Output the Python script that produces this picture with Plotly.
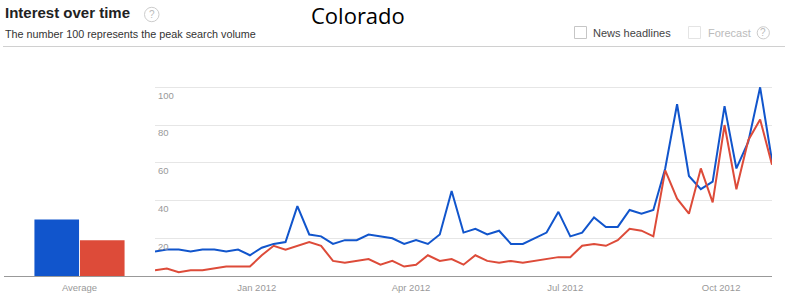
import pandas as pd
import plotly.graph_objects as go

W, H = 785, 299

# ---- data ----
start_date = "2011-11-02"
n_weeks = 53
dates = pd.date_range(start_date, periods=n_weeks, freq="7D")

blue_values = [13, 14, 14, 13, 14, 14, 13, 14, 11, 15, 17, 18, 37, 22, 21, 17, 19, 19,
               22, 21, 20, 17, 19, 17, 22, 45, 23, 25, 22, 24, 17, 17, 20, 23, 34, 21,
               23, 31, 26, 26, 35, 33, 35, 57, 91, 53, 46, 50, 90, 57, 71, 100, 61]
red_values = [3, 4, 2, 3, 3, 4, 5, 5, 5, 11, 16, 14, 16, 18, 16, 8, 7, 8,
              9, 6, 8, 5, 6, 11, 8, 9, 6, 11, 8, 7, 8, 7, 8, 9, 10, 10,
              16, 17, 16, 19, 25, 24, 21, 56, 41, 33, 57, 39, 80, 46, 72, 83, 59]
average_category = ["Average"]
blue_average = [30]
red_average = [19]
y_tick_values = [20, 40, 60, 80, 100]
x_tick_dates = ["2012-01-01", "2012-04-01", "2012-07-01", "2012-10-01"]
x_tick_labels = ["Jan 2012", "Apr 2012", "Jul 2012", "Oct 2012"]

BLUE = "#1155cc"
RED = "#dd4b39"
FONT = "Arial, Liberation Sans, sans-serif"


def px(x):
    return x / W


def py(y):
    return 1 - y / H


# plot geometry (pixels)
base_y = 276.0
top_y = 60.0
unit = 1.887
y_top_val = (base_y - top_y) / unit
y_domain = [py(base_y), py(top_y)]

fig = go.Figure()

fig.add_trace(go.Bar(x=average_category, y=blue_average, marker_color=BLUE,
                     xaxis="x", yaxis="y", showlegend=False, marker_line_width=0))
fig.add_trace(go.Bar(x=average_category, y=red_average, marker_color=RED,
                     xaxis="x", yaxis="y", showlegend=False, marker_line_width=0))

fig.add_trace(go.Scatter(x=dates, y=blue_values, mode="lines",
                         line=dict(color=BLUE, width=2), xaxis="x2", yaxis="y2",
                         showlegend=False))
fig.add_trace(go.Scatter(x=dates, y=red_values, mode="lines",
                         line=dict(color=RED, width=2), xaxis="x2", yaxis="y2",
                         showlegend=False))

tickfont = dict(family=FONT, size=9.5, color="#999999")

fig.update_layout(
    width=W, height=H, autosize=False,
    margin=dict(l=0, r=0, t=0, b=0),
    paper_bgcolor="white", plot_bgcolor="white",
    barmode="group", bargap=0.397, bargroupgap=0.02,
    xaxis=dict(domain=[px(4), px(155)], type="category", showline=True,
               linecolor="#999999", linewidth=1, showgrid=False, ticks="",
               tickfont=tickfont, anchor="y", fixedrange=True,
               ticklabelstandoff=3),
    yaxis=dict(domain=y_domain, range=[0, y_top_val], showgrid=False,
               showticklabels=False, zeroline=False, showline=False,
               anchor="x"),
    xaxis2=dict(domain=[px(155), px(772)], type="date",
                range=[dates[0], dates[-1]], showline=True, linecolor="#999999",
                linewidth=1, showgrid=False, ticks="", tickvals=x_tick_dates,
                ticktext=x_tick_labels, tickfont=tickfont, anchor="y2",
                ticklabelstandoff=3),
    yaxis2=dict(domain=y_domain, range=[0, y_top_val], anchor="x2",
                tickvals=y_tick_values, showgrid=True, gridcolor="#e6e6e6",
                gridwidth=1, zeroline=False, showline=False, ticks="",
                ticklabelposition="inside", tickfont=tickfont,
                ticklabelshift=8, ticklabelstandoff=0),
)

annotations = [
    dict(text="<b>Interest over time</b>", x=px(3), y=py(12.5), xanchor="left",
         yanchor="middle", font=dict(family=FONT, size=15, color="#222222")),
    dict(text="The number 100 represents the peak search volume", x=px(3), y=py(33.5),
         xanchor="left", yanchor="middle", font=dict(family=FONT, size=10.8, color="#333333")),
    dict(text="Colorado", x=px(311), y=1, xanchor="left", yanchor="top",
         borderpad=0, borderwidth=0,
         font=dict(family="Open Sans", size=22, color="#000000")),
    dict(text="?", x=px(151.7), y=py(14.5), xanchor="center", yanchor="middle",
         font=dict(family=FONT, size=10, color="#bbbbbb")),
    dict(text="News headlines", x=px(591), y=py(33), xanchor="left", yanchor="middle",
         font=dict(family=FONT, size=11, color="#444444")),
    dict(text="Forecast", x=px(706), y=py(33), xanchor="left", yanchor="middle",
         font=dict(family=FONT, size=11, color="#bbbbbb")),
    dict(text="?", x=px(763.3), y=py(32.8), xanchor="center", yanchor="middle",
         font=dict(family=FONT, size=10, color="#bbbbbb")),
]
for a in annotations:
    a.update(xref="paper", yref="paper", showarrow=False)
fig.update_layout(annotations=annotations)

shapes = [
    dict(type="line", x0=px(3), x1=1, y0=py(46.5), y1=py(46.5),
         line=dict(color="#d0d0d0", width=1)),
    dict(type="circle", x0=px(144.5), x1=px(159), y0=py(7.3), y1=py(21.7),
         line=dict(color="#cccccc", width=1)),
    dict(type="circle", x0=px(757.2), x1=px(769.4), y0=py(26.7), y1=py(38.9),
         line=dict(color="#cccccc", width=1)),
    dict(type="rect", x0=px(574.5), x1=px(586.5), y0=py(26.5), y1=py(38.5),
         line=dict(color="#c6c6c6", width=1)),
    dict(type="rect", x0=px(688.5), x1=px(700.5), y0=py(26.5), y1=py(38.5),
         line=dict(color="#e4e4e4", width=1)),
]
for s in shapes:
    s.update(xref="paper", yref="paper")
fig.update_layout(shapes=shapes)

fig.write_html("out.html")
